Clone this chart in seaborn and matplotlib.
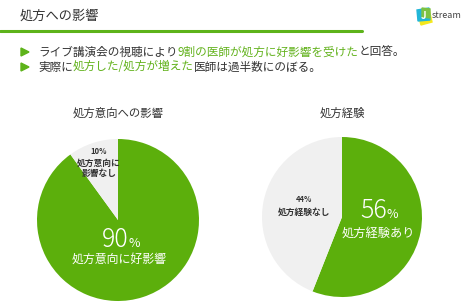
import matplotlib
matplotlib.use("Agg")
import matplotlib.pyplot as plt
import seaborn as sns
from matplotlib.patches import Polygon

sns.set_theme(style="white")
plt.rcParams['font.family'] = ['Noto Sans CJK JP', 'DejaVu Sans']

# ---- data ----
page_title = "処方への影響"
bullet1 = [("ライブ講演会の視聴により", "k"), ("9割の医師が処方に好影響を受けた", "g"), ("と回答。", "k")]
bullet2 = [("実際に", "k"), ("処方した/処方が増えた", "g"), ("医師は過半数にのぼる。", "k")]

pie1_title = "処方意向への影響"
pie1_labels = ["処方意向に好影響", "処方意向に\n影響なし"]
pie1_values = [90, 10]

pie2_title = "処方経験"
pie2_labels = ["処方経験あり", "処方経験なし"]
pie2_values = [56, 44]

GREEN = "#5CAF0C"
GREY = "#F0F0F0"
TXT = "#333333"
TXTGREEN = "#62B21C"

W, H = 465, 308
fig = plt.figure(figsize=(W / 100, H / 100), dpi=100)
fig.patch.set_facecolor("white")


def fx(x):
    return x / W


def fy(y):
    return 1 - y / H


renderer = fig.canvas.get_renderer()

# page title
fig.text(fx(20), fy(16), page_title, fontsize=9.5, color=TXT, va="center", ha="left")
# green rule
fig.add_artist(plt.Line2D([0, fx(362)], [fy(31), fy(31)], color="#5DB31A", lw=2.2))


def seg_text(x, y, segs, size):
    for s, c in segs:
        t = fig.text(fx(x), fy(y), s, fontsize=size, color=(TXT if c == "k" else TXTGREEN),
                     va="center", ha="left")
        bb = t.get_window_extent(renderer=renderer)
        x += bb.width


for yy, segs in [(52, bullet1), (67, bullet2)]:
    fig.add_artist(Polygon([[fx(21), fy(yy - 4)], [fx(21), fy(yy + 4)], [fx(29), fy(yy)]],
                           closed=True, color="#5DB31A", transform=fig.transFigure))
    seg_text(38, yy, segs, 8.4)

# logo
lx, ly = 424, 16
fig.add_artist(Polygon([[fx(lx - 6), fy(ly - 2)], [fx(lx + 5), fy(ly - 7)], [fx(lx + 8), fy(ly + 6)], [fx(lx - 3), fy(ly + 9)]],
                       closed=True, color="#F5E81C", transform=fig.transFigure))
fig.add_artist(Polygon([[fx(lx - 7), fy(ly - 6)], [fx(lx + 5), fy(ly - 8)], [fx(lx + 6), fy(ly + 4)], [fx(lx - 6), fy(ly + 5)]],
                       closed=True, color="#21B6D8", transform=fig.transFigure))
fig.add_artist(Polygon([[fx(lx - 2), fy(ly - 8)], [fx(lx + 6), fy(ly - 7)], [fx(lx + 6), fy(ly + 2)], [fx(lx - 2), fy(ly + 1)]],
                       closed=True, color="#7CC242", transform=fig.transFigure))
fig.text(fx(lx), fy(ly), "J", fontsize=7, color="white", fontweight="bold", ha="center", va="center")
fig.text(fx(lx + 8), fy(ly), "stream", fontsize=6.5, color="#444444", ha="left", va="center")


def pie_axes(cx, cy, r):
    ax = fig.add_axes([fx(cx - r), fy(cy + r), 2 * r / W, 2 * r / H])
    ax.axis("off")
    ax.set_zorder(0)
    return ax


def fix_limits(ax):
    ax.set_aspect("auto")
    ax.set_xlim(-1, 1)
    ax.set_ylim(-1, 1)


def pct_text(cx, cy, num, size_num, size_pct, color):
    t1 = fig.text(0, 0, num, fontsize=size_num, color=color, va="baseline", ha="left", zorder=5,
                  fontweight="light")
    t2 = fig.text(0, 0, "%", fontsize=size_pct, color=color, va="baseline", ha="left", zorder=5)
    w1 = t1.get_window_extent(renderer=renderer).width
    w2 = t2.get_window_extent(renderer=renderer).width
    x0 = cx - (w1 + w2) / 2
    t1.set_position((fx(x0), fy(cy)))
    t2.set_position((fx(x0 + w1), fy(cy)))


# pie 1
ax1 = pie_axes(118, 220, 81)
ax1.pie(pie1_values, colors=[GREEN, GREY], startangle=90, counterclock=False, radius=1,
        wedgeprops=dict(linewidth=0))
fix_limits(ax1)
fig.text(fx(118), fy(113), pie1_title, fontsize=8.2, color=TXT, ha="center", va="center")
pct_text(121, 247, str(pie1_values[0]), 18, 9, "white")
fig.text(fx(119), fy(259), pie1_labels[0], fontsize=8.6, color="white", ha="center", va="center", zorder=5)
fig.text(fx(99), fy(152), f"{pie1_values[1]}%", fontsize=5.5, color=TXT, ha="center", va="center",
         fontweight="bold", zorder=5)
fig.text(fx(99), fy(168.5), pie1_labels[1], fontsize=6.3, color=TXT, ha="center", va="center",
         fontweight="bold", linespacing=1.25, zorder=5)

# pie 2
ax2 = pie_axes(342, 217, 80)
ax2.pie(pie2_values, colors=[GREEN, GREY], startangle=90, counterclock=False, radius=1,
        wedgeprops=dict(linewidth=0))
fix_limits(ax2)
fig.text(fx(342), fy(113), pie2_title, fontsize=8.2, color=TXT, ha="center", va="center")
pct_text(379, 218, str(pie2_values[0]), 18, 9, "white")
fig.text(fx(378), fy(233), pie2_labels[0], fontsize=8.8, color="white", ha="center", va="center", zorder=5)
fig.text(fx(304), fy(200), f"{pie2_values[1]}%", fontsize=5.5, color=TXT, ha="center", va="center",
         fontweight="bold", zorder=5)
fig.text(fx(304), fy(212), pie2_labels[1], fontsize=6.3, color=TXT, ha="center", va="center",
         fontweight="bold", zorder=5)

fig.savefig("out.png", dpi=100)
